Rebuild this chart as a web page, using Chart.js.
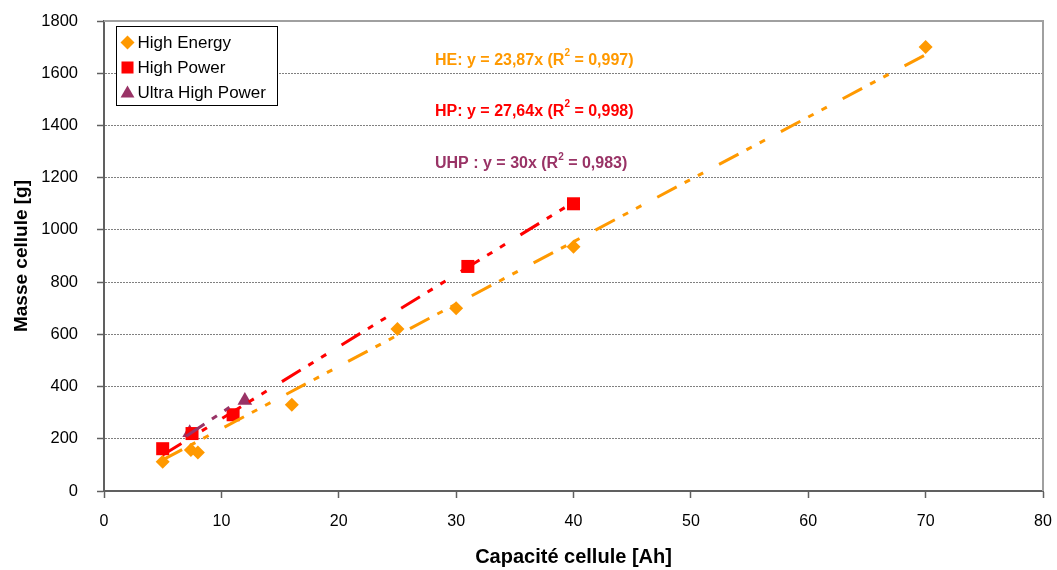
<!DOCTYPE html>
<html>
<head>
<meta charset="utf-8">
<script src="https://cdn.jsdelivr.net/npm/chart.js@4/dist/chart.umd.min.js"></script>
<style>
  html, body { margin: 0; padding: 0; background: #fff; }
  #wrap { width: 1057px; height: 570px; }
</style>
</head>
<body>
<div id="wrap"><canvas id="chart" width="1057" height="570"></canvas></div>
<script>
// Mass vs capacity of cells, with linear trendlines

const HE_X = [5, 7.4, 8, 16, 25, 30, 40, 70]
const HE_Y = [112, 157, 147, 330, 620, 700, 935, 1700]
const HP_X = [5, 7.5, 11, 31, 40]
const HP_Y = [162, 220, 292, 860, 1100]
const UHP_X = [7.3, 12]
const UHP_Y = [223, 347]

// trendline end points as drawn
const HE_TREND_X = [5, 70]
const HE_TREND_Y = [119, 1671]
const HP_TREND_X = [5, 40]
const HP_TREND_Y = [138, 1106]
const UHP_TREND_X = [7, 12]
const UHP_TREND_Y = [210, 360]

const SERIES_LABELS = ['High Energy', 'High Power', 'Ultra High Power']
const EQUATIONS = [
  ['HE: y = 23,87x (R', '2', ' = 0,997)'],
  ['HP: y = 27,64x (R', '2', ' = 0,998)'],
  ['UHP : y = 30x (R', '2', ' = 0,983)'],
]

const X_TITLE = 'Capacité cellule [Ah]'
const Y_TITLE = 'Masse cellule [g]'

const ORANGE = '#ff9900'
const RED = '#ff0000'
const PURPLE = '#993366'
const FONT = "'Liberation Sans', Arial, sans-serif"
const TREND_DASH = [22, 9, 6, 9, 6, 18]

const pts = (xs, ys) => xs.map((x, i) => ({ x, y: ys[i] }))

function trend(xs, ys, color) {
  return {
    type: 'line',
    data: pts(xs, ys),
    borderColor: color,
    borderWidth: 3,
    borderDash: TREND_DASH,
    pointRadius: 0,
    fill: false,
    showLine: true,
    order: 0,
    isTrend: true,
  }
}

// plot frame (top/right) in grey
const frame = {
  id: 'frame',
  beforeDatasetsDraw(chart) {
    const { ctx, chartArea: a } = chart
    ctx.save()
    ctx.strokeStyle = '#a0a0a0'
    ctx.lineWidth = 2
    ctx.beginPath()
    ctx.moveTo(a.left, a.top)
    ctx.lineTo(a.right, a.top)
    ctx.lineTo(a.right, a.bottom)
    ctx.stroke()
    ctx.restore()
  },
}

// legend box inside the plot, equations as text
const overlay = {
  id: 'overlay',
  afterDraw(chart) {
    const { ctx } = chart
    const x = chart.scales.x, y = chart.scales.y
    ctx.save()

    // legend
    const bx = 116.5, by = 26.5, bw = 161, bh = 79
    ctx.fillStyle = '#fff'
    ctx.fillRect(bx, by, bw, bh)
    ctx.strokeStyle = '#000'
    ctx.lineWidth = 1
    ctx.strokeRect(bx, by, bw, bh)
    const marks = chart.data.datasets.filter(d => !d.isTrend)
    const legendRadius = { rectRot: 7, rect: 8.5, triangle: 8 }
    ctx.font = '17px ' + FONT
    ctx.textBaseline = 'middle'
    marks.forEach((d, i) => {
      const ry = by + 16 + i * 25
      ctx.fillStyle = d.backgroundColor
      Chart.helpers.drawPoint(ctx, {
        pointStyle: d.pointStyle,
        radius: legendRadius[d.pointStyle],
        rotation: 0,
        borderWidth: 0,
      }, bx + 11, ry + (d.pointStyle === 'triangle' ? 1 : 0))
      ctx.fillStyle = '#000'
      ctx.fillText(d.label, bx + 21, ry + 1)
    })

    // equations
    const colors = [ORANGE, RED, PURPLE]
    const eqY = [1650, 1453, 1253]
    ctx.font = 'bold 16px ' + FONT
    EQUATIONS.forEach((eq, i) => {
      let px = x.getPixelForValue(28.2)
      const py = y.getPixelForValue(eqY[i])
      ctx.fillStyle = colors[i]
      ctx.textBaseline = 'middle'
      ctx.fillText(eq[0], px, py)
      px += ctx.measureText(eq[0]).width
      ctx.font = 'bold 10px ' + FONT
      ctx.fillText(eq[1], px, py - 7)
      px += ctx.measureText(eq[1]).width
      ctx.font = 'bold 16px ' + FONT
      ctx.fillText(eq[2], px, py)
    })
    ctx.restore()
  },
}

new Chart(document.getElementById('chart'), {
  type: 'scatter',
  data: {
    datasets: [
      trend(HE_TREND_X, HE_TREND_Y, ORANGE),
      trend(HP_TREND_X, HP_TREND_Y, RED),
      trend(UHP_TREND_X, UHP_TREND_Y, PURPLE),
      {
        label: SERIES_LABELS[0],
        data: pts(HE_X, HE_Y),
        pointStyle: 'rectRot',
        pointRadius: 7,
        backgroundColor: ORANGE,
        borderWidth: 0,
        order: 1,
      },
      {
        label: SERIES_LABELS[1],
        data: pts(HP_X, HP_Y),
        pointStyle: 'rect',
        pointRadius: 9.2,
        backgroundColor: RED,
        borderWidth: 0,
        order: 1,
      },
      {
        label: SERIES_LABELS[2],
        data: pts(UHP_X, UHP_Y),
        pointStyle: 'triangle',
        pointRadius: 8.5,
        backgroundColor: PURPLE,
        borderWidth: 0,
        order: 1,
      },
    ],
  },
  options: {
    responsive: false,
    animation: false,
    layout: { padding: { top: 21, right: 14, left: 0, bottom: 0 } },
    plugins: { legend: { display: false }, tooltip: { enabled: false } },
    scales: {
      x: {
        type: 'linear',
        min: 0,
        max: 80,
        afterFit: s => { s.height = 79; s.paddingLeft = 0; s.paddingRight = 0 },
        ticks: { stepSize: 10, padding: 14, color: '#000', font: { family: FONT, size: 16 } },
        grid: { drawOnChartArea: false, tickLength: 7, tickColor: '#606060', tickWidth: 1.5 },
        border: { color: '#606060', width: 2 },
        title: {
          display: true, text: X_TITLE, color: '#000',
          font: { family: FONT, size: 20, weight: 'bold' },
          padding: { top: 0, bottom: 1 },
        },
      },
      y: {
        min: 0,
        max: 1800,
        afterFit: s => { s.width = 104; s.paddingTop = 0; s.paddingBottom = 0 },
        ticks: {
          stepSize: 200, padding: 19, color: '#000',
          font: { family: FONT, size: 16.5 },
          callback: v => String(v),
        },
        grid: {
          color: '#808080', lineWidth: 1, tickLength: 7,
          tickColor: '#606060', tickWidth: 1.5, tickBorderDash: [],
        },
        border: { color: '#606060', width: 2, dash: [2, 1] },
        title: {
          display: true, text: Y_TITLE, color: '#000',
          font: { family: FONT, size: 19, weight: 'bold' },
          padding: { top: 10, bottom: 0 },
        },
      },
    },
  },
  plugins: [frame, overlay],
})
</script>
</body>
</html>
